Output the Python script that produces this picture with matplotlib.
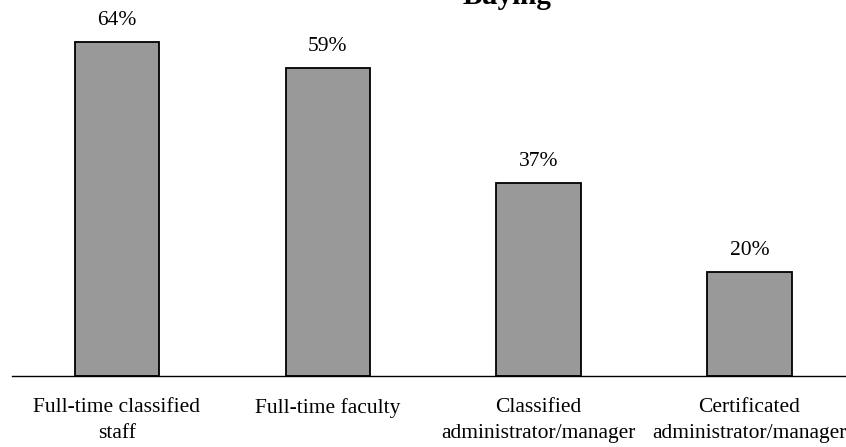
import matplotlib
matplotlib.use("Agg")
import matplotlib.pyplot as plt

categories = ["Full-time classified\nstaff", "Full-time faculty",
              "Classified\nadministrator/manager", "Certificated\nadministrator/manager"]
values = [64, 59, 37, 20]
value_labels = ["64%", "59%", "37%", "20%"]
title = "Buying"

plt.rcParams["font.family"] = ["Liberation Serif", "DejaVu Serif"]

W, H = 846, 447
fig = plt.figure(figsize=(W / 100, H / 100), dpi=100)
ax = fig.add_axes([11.5 / W, 71 / H, 843.3 / W, 365.4 / H])

x = range(len(categories))
bars = ax.bar(x, values, width=0.4, color="#999999", edgecolor="black", linewidth=1.3)
ax.set_xlim(-0.5, 3.5)
ax.set_ylim(0, 70)

for b, lab in zip(bars, value_labels):
    ax.annotate(lab, (b.get_x() + b.get_width() / 2, b.get_height()),
                xytext=(0, 12), textcoords="offset points",
                ha="center", va="baseline", fontsize=15.5)

ax.set_xticks(list(x))
ax.set_xticklabels(categories, fontsize=15.5, linespacing=1.5)
ax.tick_params(axis="x", length=0, pad=16)
ax.set_yticks([])
for s in ["top", "left", "right"]:
    ax.spines[s].set_visible(False)
ax.spines["bottom"].set_linewidth(1.0)

fig.text(507 / W, 1 - 4 / H, title, ha="center", va="baseline",
         fontsize=21, fontweight="bold")

fig.savefig("out.png", dpi=100)
